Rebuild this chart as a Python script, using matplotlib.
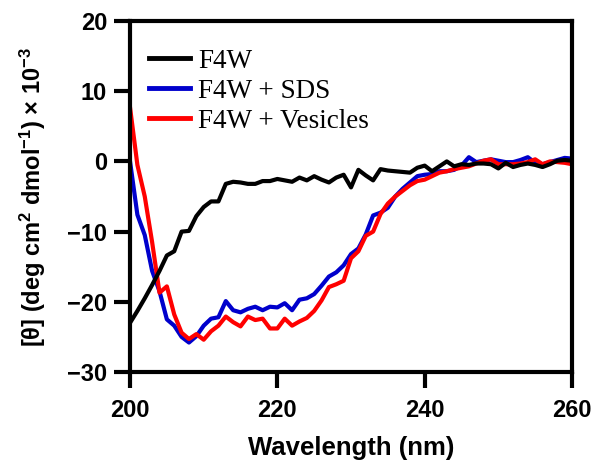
import matplotlib
matplotlib.use("Agg")
import matplotlib.pyplot as plt
import numpy as np

wavelength = list(range(200, 261))

f4w = [-23.0, -21.3, -19.5, -17.6, -15.6, -13.4, -12.8, -10.0, -9.9, -7.8,
       -6.5, -5.7, -5.7, -3.2, -2.9, -3.0, -3.2, -3.2, -2.8, -2.8,
       -2.5, -2.7, -2.9, -2.3, -2.7, -2.1, -2.6, -3.0, -2.3, -1.9,
       -3.7, -1.2, -2.0, -2.7, -1.1, -1.3, -1.4, -1.5, -1.6, -0.9,
       -0.6, -1.4, -0.7, 0.0, -0.7, -0.4, -0.5, -0.3, -0.3, -0.4,
       -1.0, -0.2, -0.8, -0.5, -0.3, -0.5, -0.8, -0.4, 0.1, 0.2, 0.1]

f4w_sds = [0.0, -7.6, -10.5, -15.6, -18.5, -22.5, -23.4, -25.0, -25.8, -24.9,
           -23.4, -22.4, -22.2, -19.9, -21.2, -21.5, -21.0, -20.7, -21.2, -20.7,
           -20.8, -20.2, -21.2, -19.7, -19.5, -18.9, -17.7, -16.4, -15.8, -14.8,
           -13.2, -12.4, -10.4, -7.7, -7.3, -6.6, -5.0, -3.9, -3.0, -2.1,
           -1.9, -1.8, -1.4, -1.4, -1.2, -0.6, 0.6, -0.1, 0.1, 0.3,
           0.1, -0.1, -0.1, 0.2, 0.6, -0.2, -0.4, -0.1, 0.2, 0.5, 0.4]

f4w_ves = [7.7, -0.5, -5.0, -11.5, -18.7, -17.8, -21.8, -24.4, -25.3, -24.6,
           -25.4, -24.2, -23.4, -22.1, -22.9, -23.5, -22.1, -22.6, -22.4, -23.8,
           -23.8, -22.4, -23.4, -22.8, -22.3, -21.3, -19.8, -17.9, -17.5, -17.0,
           -13.8, -12.8, -10.6, -10.0, -7.5, -6.0, -5.0, -4.2, -3.4, -2.8,
           -2.6, -2.1, -1.6, -1.4, -1.1, -0.9, -0.7, -0.3, 0.1, 0.3,
           -0.4, -0.4, -0.4, -0.3, -0.1, 0.3, -0.4, 0.0, -0.1, -0.2, -0.4]

series_labels = ["F4W", "F4W + SDS", "F4W + Vesicles"]
series_colors = ["#000000", "#0000CC", "#FF0000"]

x_ticks = [200, 220, 240, 260]
y_ticks = [-30, -20, -10, 0, 10, 20]

plt.rcParams['font.family'] = ['Liberation Sans', 'DejaVu Sans']
plt.rcParams['mathtext.fontset'] = 'custom'
plt.rcParams['mathtext.bf'] = 'Liberation Sans:bold'
plt.rcParams['mathtext.rm'] = 'Liberation Sans:bold'
plt.rcParams['mathtext.default'] = 'bf'

fig = plt.figure(figsize=(5.94, 4.62), dpi=100)
ax = fig.add_axes([0.2189, 0.1948, 0.963 - 0.2189, 0.9545 - 0.1948])

l_sds, = ax.plot(wavelength, f4w_sds, color=series_colors[1], lw=3, label=series_labels[1])
l_ves, = ax.plot(wavelength, f4w_ves, color=series_colors[2], lw=3, label=series_labels[2])
l_f4w, = ax.plot(wavelength, f4w, color=series_colors[0], lw=3, label=series_labels[0])

ax.set_xlim(200, 260)
ax.set_ylim(-30, 20)
ax.set_xticks(x_ticks)
ax.set_yticks(y_ticks)
ax.tick_params(direction='out', length=11.5, width=3, labelsize=17, pad=5)
ax.tick_params(axis='x', pad=8)
for lbl in ax.get_xticklabels() + ax.get_yticklabels():
    lbl.set_fontweight('bold')
for sp in ax.spines.values():
    sp.set_linewidth(3)

ax.set_xlabel("Wavelength (nm)", fontsize=18.5, fontweight='bold', labelpad=10)
ax.set_ylabel(r"[θ] (deg cm$^{2}$ dmol$^{-1}$) × 10$^{-3}$",
              fontsize=17, fontweight='bold', labelpad=14)

leg = ax.legend(handles=[l_f4w, l_sds, l_ves], loc='upper left',
                bbox_to_anchor=(-0.012, 0.99), frameon=False,
                prop={'family': 'Liberation Serif', 'size': 19.5},
                handlelength=1.5, handletextpad=0.3, labelspacing=0.18,
                borderaxespad=0.5)
for h in leg.get_lines():
    h.set_linewidth(3.5)

fig.savefig("out.png", dpi=100)
